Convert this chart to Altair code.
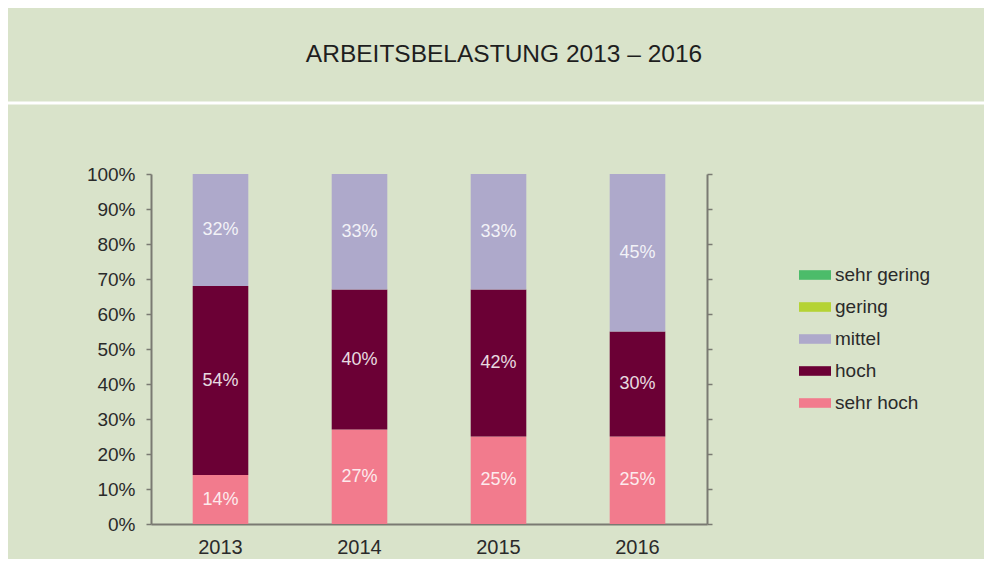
import altair as alt
import pandas as pd

years = ["2013", "2014", "2015", "2016"]
categories = ["sehr gering", "gering", "mittel", "hoch", "sehr hoch"]
colors = ["#4cbc6a", "#b5d335", "#aea9cb", "#6b0035", "#f27b8d"]
sehr_hoch = [14, 27, 25, 25]
hoch = [54, 40, 42, 30]
mittel = [32, 33, 33, 45]
y_ticks = [0, 10, 20, 30, 40, 50, 60, 70, 80, 90, 100]
title_text = "ARBEITSBELASTUNG 2013 – 2016"

rows = []
for i, y in enumerate(years):
    rows.append({"year": y, "category": "sehr hoch", "value": sehr_hoch[i], "order": 0})
    rows.append({"year": y, "category": "hoch", "value": hoch[i], "order": 1})
    rows.append({"year": y, "category": "mittel", "value": mittel[i], "order": 2})
df = pd.DataFrame(rows)

FONT = "Liberation Sans"
AX = "#7a7a72"

x_enc = alt.X("year:N", sort=years, title=None,
              scale=alt.Scale(paddingInner=0.6, paddingOuter=0.3),
              axis=alt.Axis(labelAngle=0, ticks=False, labelPadding=13, labelFontSize=20,
                            labelColor="#2a2a2a", labelFont=FONT, domainColor=AX, domainWidth=2))
yscale = alt.Scale(domain=[0, 100], nice=False)

bars = alt.Chart(df).mark_bar().encode(
    x=x_enc,
    y=alt.Y("value:Q", stack="zero", scale=yscale, title=None,
            axis=alt.Axis(values=y_ticks, labelExpr="datum.value + '%'", grid=False,
                          tickSize=5, tickColor=AX, tickWidth=1.5, domainColor=AX, domainWidth=2,
                          labelPadding=11, labelFontSize=19, labelFont=FONT, labelColor="#2a2a2a")),
    color=alt.Color("category:N", title=None,
                    scale=alt.Scale(domain=categories, range=colors),
                    legend=alt.Legend(orient="none", legendX=648, legendY=85,
                                      symbolType="M-1,-0.3H1V0.3H-1Z", symbolSize=1024,
                                      symbolStrokeWidth=0, labelFontSize=19, labelFont=FONT,
                                      labelColor="#2a2a2a", labelOffset=4, rowPadding=6,
                                      padding=0)),
    order=alt.Order("order:Q"),
)

labels = alt.Chart(df).transform_stack(
    stack="value", groupby=["year"], as_=["v0", "v1"], sort=[alt.SortField("order")]
).transform_calculate(
    mid="(datum.v0 + datum.v1) / 2", lab="datum.value + '%'"
).mark_text(fontSize=18, font=FONT, color="#ffffff", opacity=0.85, baseline="middle").encode(
    x=x_enc,
    y=alt.Y("mid:Q", scale=yscale, axis=None),
    text="lab:N",
)

right_axis = alt.Chart(df).mark_point(opacity=0).encode(
    x=x_enc,
    y=alt.Y("value:Q", stack="zero", scale=yscale, title=None,
            axis=alt.Axis(orient="right", values=y_ticks, labels=False, grid=False,
                          tickSize=5, tickColor=AX, tickWidth=1.5, domainColor=AX, domainWidth=2)),
)

title_df = pd.DataFrame({"t": [title_text]})
title = alt.Chart(title_df).mark_text(fontSize=24.5, font=FONT, color="#1e1e1e",
                                      baseline="alphabetic", align="center").encode(
    x=alt.value(353), y=alt.value(-112), text="t:N")

line = alt.Chart(title_df).mark_rule(color="#ffffff", strokeWidth=3).encode(
    x=alt.value(-143), x2=alt.value(833), y=alt.value(-71))

chart = alt.layer(bars, labels, right_axis, title, line).resolve_axis(y="independent").properties(
    width=556, height=350,
    background="#d9e3ca",
    padding={"left": 143, "top": 166, "right": 277, "bottom": 35},
    autosize=alt.AutoSizeParams(type="none"),
).configure_view(stroke=None)

chart.save("out.html", embed_options={"renderer": "svg", "actions": False})
